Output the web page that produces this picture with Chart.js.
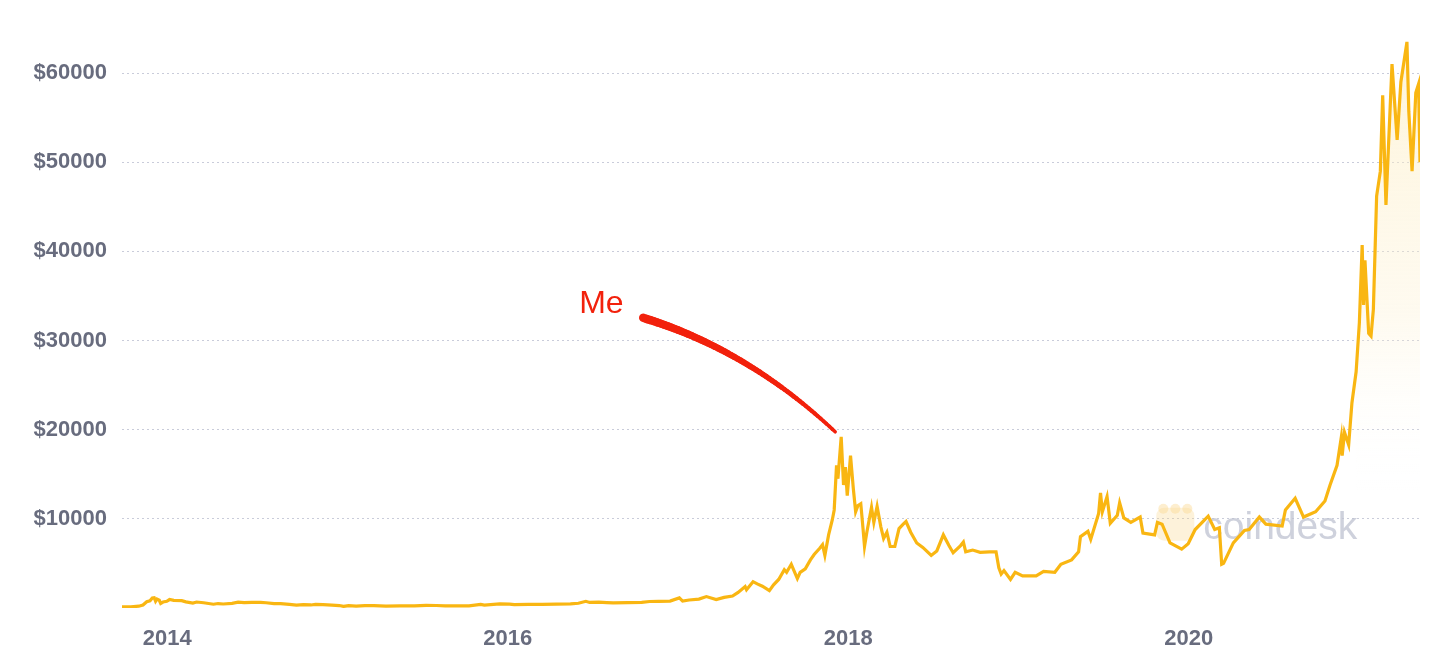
<!DOCTYPE html>
<html><head><meta charset="utf-8">
<script src="https://cdn.jsdelivr.net/npm/chart.js@4.4.1/dist/chart.umd.min.js"></script>
<style>html,body{margin:0;padding:0;background:#fff}#wrap{width:1456px;height:658px;position:relative}</style>
</head><body><div id="wrap"><canvas id="c" width="1456" height="658"></canvas></div>
<script>
const dates = [
'2013-09-26','2013-10-15','2013-11-01','2013-11-10','2013-11-18','2013-11-25','2013-11-30','2013-12-04','2013-12-07','2013-12-10','2013-12-15','2013-12-18','2013-12-23','2013-12-31',
'2014-01-06','2014-01-15','2014-02-01','2014-02-10','2014-02-25','2014-03-05','2014-03-20','2014-04-10','2014-04-20','2014-05-01','2014-05-20','2014-06-02','2014-06-15','2014-07-01','2014-07-20','2014-08-01','2014-08-18','2014-09-01','2014-09-20','2014-10-05','2014-10-20','2014-11-05','2014-11-15','2014-12-01','2014-12-20',
'2015-01-05','2015-01-14','2015-01-25','2015-02-10','2015-03-01','2015-03-20','2015-04-15','2015-05-15','2015-06-15','2015-07-10','2015-08-01','2015-08-20','2015-09-15','2015-10-10','2015-11-04','2015-11-12','2015-12-15',
'2016-01-05','2016-01-15','2016-02-15','2016-03-15','2016-04-15','2016-05-15','2016-06-01','2016-06-17','2016-06-25','2016-07-15','2016-08-01','2016-08-15','2016-09-15','2016-10-15','2016-11-01','2016-11-20','2016-12-15',
'2017-01-04','2017-01-11','2017-01-25','2017-02-15','2017-03-03','2017-03-24','2017-04-10','2017-04-28','2017-05-10','2017-05-25','2017-05-28','2017-06-11','2017-06-20','2017-07-01','2017-07-16','2017-07-25','2017-08-05','2017-08-17','2017-08-22','2017-09-01','2017-09-14','2017-09-20','2017-10-01','2017-10-12','2017-10-20','2017-11-01','2017-11-07','2017-11-12','2017-11-20','2017-11-28','2017-12-02','2017-12-07','2017-12-10','2017-12-17','2017-12-22','2017-12-26','2017-12-30',
'2018-01-06','2018-01-12','2018-01-17','2018-01-22','2018-01-28','2018-02-02','2018-02-05','2018-02-10','2018-02-20','2018-02-25','2018-03-04','2018-03-12','2018-03-18','2018-03-25','2018-04-01','2018-04-11','2018-04-20','2018-04-29','2018-05-05','2018-05-15','2018-05-28','2018-06-10','2018-06-28','2018-07-10','2018-07-24','2018-08-05','2018-08-14','2018-08-30','2018-09-05','2018-09-10','2018-09-25','2018-10-11','2018-10-31','2018-11-14','2018-11-20','2018-11-25','2018-12-01','2018-12-15','2018-12-25',
'2019-01-10','2019-02-08','2019-02-24','2019-03-20','2019-04-02','2019-04-25','2019-05-10','2019-05-14','2019-05-30','2019-06-05','2019-06-22','2019-06-26','2019-06-30','2019-07-10','2019-07-17','2019-08-01','2019-08-06','2019-08-15','2019-08-30','2019-09-19','2019-09-25','2019-10-20','2019-10-26','2019-11-05','2019-11-22','2019-12-17','2019-12-31',
'2020-01-15','2020-02-12','2020-02-26','2020-03-07','2020-03-12','2020-03-16','2020-04-06','2020-04-30','2020-05-10','2020-06-01','2020-06-15','2020-07-20','2020-07-27','2020-08-17','2020-09-04','2020-09-30','2020-10-20','2020-10-31','2020-11-15','2020-11-24','2020-11-26','2020-12-01','2020-12-10','2020-12-17','2020-12-26',
'2021-01-02','2021-01-08','2021-01-11','2021-01-14','2021-01-22','2021-01-27','2021-02-01','2021-02-08','2021-02-16','2021-02-21','2021-02-28','2021-03-13','2021-03-24','2021-04-01','2021-04-14','2021-04-18','2021-04-25','2021-05-03','2021-05-09','2021-05-12'
];
const prices = [
125,140,200,330,700,800,1120,1150,750,1000,870,520,670,750,
950,850,830,690,550,670,590,420,500,450,520,650,600,640,620,590,490,480,410,320,385,340,400,380,320,
275,175,270,220,260,260,220,237,235,290,280,230,230,245,400,320,455,
430,380,400,415,430,455,530,750,620,665,610,570,610,640,730,740,780,
1130,780,900,1000,1280,940,1190,1340,1750,2400,2050,2950,2700,2450,1950,2600,3200,4300,4000,4900,3300,4000,4400,5400,6000,6700,7100,5900,8200,9900,11000,16000,14500,19200,13800,15800,12600,
17100,13400,10800,11500,11700,8800,6900,8500,11300,9600,11400,9100,7800,8500,6900,6900,8900,9400,9700,8500,7300,6800,5900,6400,8200,7000,6200,7000,7400,6300,6500,6250,6300,6300,4500,3800,4200,3200,4000,
3600,3600,4100,4000,4900,5400,6300,8000,8600,7700,10600,12900,10800,12500,9500,10400,11800,10100,9600,10200,8400,8200,9600,9400,7300,6600,7200,
8800,10300,8800,9000,4900,5000,7300,8700,8800,10200,9400,9200,11000,12300,10200,10800,12000,13800,16000,19100,17100,19700,18300,23000,26500,
32000,40700,34000,39000,30800,30500,33500,46200,49000,57500,45200,61000,52500,59000,63500,55700,49000,57800,58800,50000
];
const yTicks = [10000,20000,30000,40000,50000,60000];
const xTicks = [2014,2016,2018,2020];
const highlightFrom = '2020-12-26';
const annotationText = 'Me';
const annotationDate = '2017-12-17';
const annotationPrice = 19200;
const watermarkText = 'coindesk';

function toYear(s){
  const d = Date.parse(s+'T00:00:00Z');
  const y = +s.slice(0,4);
  const a = Date.UTC(y,0,1), b = Date.UTC(y+1,0,1);
  return y + (d-a)/(b-a);
}
const points = dates.map((d,i)=>({x:toYear(d), y:prices[i]}));
const hlStart = toYear(highlightFrom);
const hlPoints = points.filter(p=>p.x>=hlStart);

const labelColor = '#686c7e';
const lineColor = '#f9b612';

const overlay = {
  id:'overlay',
  beforeDatasetsDraw(chart){
    const c = chart.ctx; const xs = chart.scales.x, ys = chart.scales.y;
    c.save();
    const lx = xs.getPixelForValue(2019.81), ly = ys.getPixelForValue(11700);
    c.fillStyle = 'rgba(250,215,140,0.32)';
    c.beginPath();
    if (c.roundRect) c.roundRect(lx, ly+4, 38, 33, 8); else c.rect(lx, ly+4, 38, 33);
    c.fill();
    c.fillStyle = 'rgba(250,215,140,0.42)';
    for (let k=0;k<3;k++){ c.beginPath(); c.arc(lx+7+k*12, ly+5, 5, 0, Math.PI*2); c.fill(); }
    c.font = '39px "Liberation Sans", Arial, sans-serif';
    c.fillStyle = 'rgba(190,194,208,0.75)';
    c.textBaseline = 'alphabetic';
    c.fillText(watermarkText, lx+47, ly+35);
    c.restore();
  },
  afterDatasetsDraw(chart){
    const c = chart.ctx; const xs = chart.scales.x, ys = chart.scales.y;
    const ex = xs.getPixelForValue(toYear(annotationDate)) - 6;
    const ey = ys.getPixelForValue(annotationPrice) - 5;
    const sx = ex - 192, sy = ey - 114;
    const cx = ex - 87, cy = ey - 82;
    c.save();
    c.strokeStyle = '#f2210c';
    c.lineCap = 'round';
    const N = 60;
    let px = sx, py = sy;
    for (let i=1;i<=N;i++){
      const t = i/N;
      const x = (1-t)*(1-t)*sx + 2*(1-t)*t*cx + t*t*ex;
      const y = (1-t)*(1-t)*sy + 2*(1-t)*t*cy + t*t*ey;
      c.lineWidth = 8.5 - 5*t;
      c.beginPath(); c.moveTo(px,py); c.lineTo(x,y); c.stroke();
      px = x; py = y;
    }
    c.fillStyle = '#f2210c';
    c.font = '32px "Liberation Sans", Arial, sans-serif';
    c.textAlign = 'left'; c.textBaseline = 'alphabetic';
    c.fillText(annotationText, sx - 64, sy - 5);
    c.restore();
  }
};

new Chart(document.getElementById('c'), {
  type:'line',
  data:{
    datasets:[
      {data:points, borderColor:lineColor, borderWidth:3.2, pointRadius:0, tension:0, fill:false, order:1},
      {data:hlPoints, borderWidth:0, pointRadius:0, tension:0, fill:'origin', order:2,
       backgroundColor(ctx){
         const ch = ctx.chart; const a = ch.chartArea; if(!a) return 'rgba(0,0,0,0)';
         const g = ch.ctx.createLinearGradient(0, a.top+30, 0, a.top+470);
         g.addColorStop(0,'rgba(253,236,190,0.55)');
         g.addColorStop(0.6,'rgba(253,240,205,0.3)');
         g.addColorStop(1,'rgba(255,255,255,0)');
         return g;
       }}
    ]
  },
  options:{
    responsive:false, animation:false, devicePixelRatio:1,
    layout:{padding:{top:21,right:36,left:0,bottom:0}},
    plugins:{legend:{display:false}, tooltip:{enabled:false}},
    scales:{
      x:{type:'linear', min:points[0].x, max:points[points.length-1].x,
         afterFit(s){ s.height = 50; s.paddingLeft = 0; s.paddingRight = 0; },
         afterBuildTicks(s){ s.ticks = xTicks.map(v=>({value:v})); },
         grid:{display:false}, border:{display:false},
         ticks:{color:labelColor, padding:10, maxRotation:0, autoSkip:false,
                font:{family:'"Liberation Sans", Arial, sans-serif', size:22, weight:'bold'},
                callback:v=>String(v)}},
      y:{min:0, max:65843,
         afterFit(s){ s.width = 122; s.paddingTop = 0; s.paddingBottom = 0; },
         afterBuildTicks(s){ s.ticks = yTicks.map(v=>({value:v})); },
         grid:{color:'#c9ccda', lineWidth:1, drawTicks:false},
         border:{display:false, dash:[2,3]},
         ticks:{color:labelColor, padding:15,
                font:{family:'"Liberation Sans", Arial, sans-serif', size:22, weight:'bold'},
                callback:v=>'$'+v}}
    }
  },
  plugins:[overlay]
});
</script></body></html>
